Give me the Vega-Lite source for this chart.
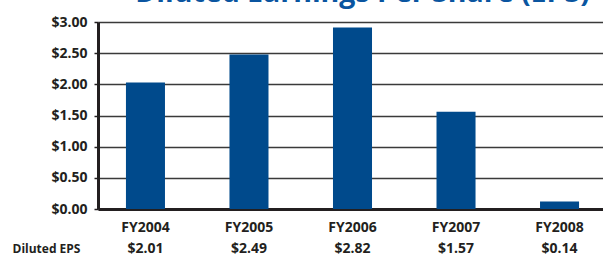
{
  "$schema": "https://vega.github.io/schema/vega-lite/v6.json",
  "width": 509,
  "height": 187,
  "autosize": "none",
  "padding": {"left": 98, "top": 22, "right": 0, "bottom": 45},
  "background": "white",
  "title": {
    "text": "Diluted Earnings Per Share (EPS)",
    "font": "Open Sans",
    "fontWeight": "bold",
    "fontSize": 28.5,
    "color": "#0a55a0",
    "anchor": "middle",
    "frame": "group",
    "baseline": "alphabetic",
    "offset": 0,
    "dx": 10,
    "dy": 15
  },
  "config": {
    "view": {"stroke": null},
    "font": "Open Sans",
    "axisY": {
      "values": [0, 0.5, 1, 1.5, 2, 2.5, 3],
      "labelOverlap": false,
      "format": "$.2f",
      "title": "Diluted EPS",
      "titleAngle": 0,
      "titleFont": "Open Sans",
      "titleFontWeight": "bold",
      "titleFontSize": 12,
      "titleColor": "#231f20",
      "titleAlign": "left",
      "titleBaseline": "middle",
      "titleX": -86,
      "titleY": 226,
      "labelFont": "Open Sans",
      "labelFontWeight": "bold",
      "labelFontSize": 14,
      "labelColor": "#231f20",
      "labelPadding": 7,
      "tickSize": 4,
      "tickWidth": 1.5,
      "tickColor": "#231f20",
      "domainColor": "#231f20",
      "domainWidth": 3,
      "grid": true,
      "gridColor": "#3a3a3a",
      "gridWidth": 1.3
    }
  },
  "data": {
    "values": [
      {"year": "FY2004", "bar": 2.03, "eps": 2.01},
      {"year": "FY2005", "bar": 2.48, "eps": 2.49},
      {"year": "FY2006", "bar": 2.91, "eps": 2.82},
      {"year": "FY2007", "bar": 1.56, "eps": 1.57},
      {"year": "FY2008", "bar": 0.12, "eps": 0.14}
    ]
  },
  "encoding": {
    "x": {
      "field": "year",
      "type": "nominal",
      "sort": null,
      "scale": {"paddingInner": 0.623, "paddingOuter": 0.27},
      "axis": {
        "title": null,
        "labelAngle": 0,
        "labelFont": "Open Sans",
        "labelFontWeight": "bold",
        "labelFontSize": 14,
        "labelColor": "#231f20",
        "labelPadding": 11,
        "ticks": false,
        "domainColor": "#231f20",
        "domainWidth": 3
      }
    }
  },
  "layer": [
    {
      "mark": {"type": "bar", "color": "#004a8c"},
      "encoding": {
        "y": {
          "field": "bar",
          "type": "quantitative",
          "scale": {"domain": [0, 3], "nice": false},
          "axis": {"title": "Diluted EPS", "values": [0, 0.5, 1, 1.5, 2, 2.5, 3]}
        }
      }
    },
    {
      "mark": {
        "type": "text",
        "font": "Open Sans",
        "fontWeight": "bold",
        "fontSize": 14,
        "color": "#231f20",
        "baseline": "middle",
        "dy": 40
      },
      "encoding": {
        "y": {"datum": 0, "type": "quantitative", "axis": {"title": "Diluted EPS", "values": [0, 0.5, 1, 1.5, 2, 2.5, 3]}},
        "text": {"field": "eps", "type": "quantitative", "format": "$.2f"}
      }
    }
  ]
}
